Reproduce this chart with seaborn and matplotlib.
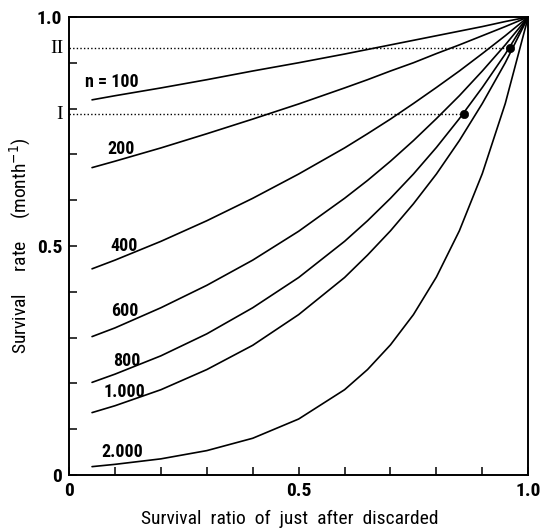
import matplotlib
matplotlib.use("Agg")
import numpy as np
import pandas as pd
import matplotlib.pyplot as plt
import seaborn as sns
from matplotlib import font_manager

# ── data ─────────────────────────────────────────────────────
x_ratio = [0.05, 0.1, 0.2, 0.3, 0.4, 0.5, 0.6, 0.65, 0.7, 0.75, 0.8, 0.85, 0.9, 0.95, 1.0]

rate_n100  = [0.819, 0.828, 0.845, 0.863, 0.882, 0.900, 0.919, 0.929, 0.939, 0.949, 0.959, 0.969, 0.979, 0.990, 1.0]
rate_n200  = [0.671, 0.685, 0.714, 0.745, 0.777, 0.810, 0.845, 0.863, 0.882, 0.900, 0.920, 0.939, 0.959, 0.979, 1.0]
rate_n400  = [0.450, 0.469, 0.510, 0.555, 0.604, 0.657, 0.714, 0.745, 0.777, 0.811, 0.846, 0.882, 0.920, 0.959, 1.0]
rate_n600  = [0.302, 0.321, 0.365, 0.414, 0.469, 0.532, 0.604, 0.643, 0.685, 0.730, 0.778, 0.828, 0.882, 0.939, 1.0]
rate_n800  = [0.202, 0.220, 0.260, 0.308, 0.365, 0.431, 0.510, 0.555, 0.604, 0.657, 0.715, 0.778, 0.846, 0.919, 1.0]
rate_n1000 = [0.136, 0.151, 0.186, 0.230, 0.283, 0.350, 0.431, 0.480, 0.533, 0.592, 0.657, 0.730, 0.811, 0.900, 1.0]
rate_n2000 = [0.018, 0.023, 0.035, 0.053, 0.080, 0.122, 0.186, 0.230, 0.284, 0.350, 0.432, 0.533, 0.658, 0.811, 1.0]

n_values = [100, 200, 400, 600, 800, 1000, 2000]
n_labels = ["n = 100", "200", "400", "600", "800", "1.000", "2.000"]
all_rates = [rate_n100, rate_n200, rate_n400, rate_n600, rate_n800, rate_n1000, rate_n2000]

# marked points (I, II) and their levels
dot_x = [0.861, 0.961]
dot_y = [0.788, 0.932]
level_labels = ["I", "II"]

df = pd.concat(
    [pd.DataFrame({"ratio": x_ratio, "rate": r, "n": n}) for n, r in zip(n_values, all_rates)],
    ignore_index=True,
)

# ── style ────────────────────────────────────────────────────
sns.set_style("ticks")

# narrow face if there is one, otherwise a condensed stretch of what exists
installed = {f.name for f in font_manager.fontManager.ttflist}
narrow = next((f for f in ["Liberation Sans Narrow", "Roboto Condensed", "Open Sans Condensed",
                           "Liberation Sans", "Roboto"] if f in installed), "DejaVu Sans")
plt.rcParams["font.family"] = [narrow, "DejaVu Sans"]
plt.rcParams["font.stretch"] = "condensed"
for key in ["text.color", "axes.labelcolor", "xtick.color", "ytick.color", "axes.edgecolor"]:
    plt.rcParams[key] = "black"

fig = plt.figure(figsize=(5.44, 5.30), dpi=100)
ax = fig.add_axes([0.127, 0.104, 0.844, 0.864])

sns.lineplot(data=df, x="ratio", y="rate", units="n", estimator=None,
             color="black", linewidth=1.2, ax=ax, legend=False)

# dotted guide lines from the axis to the marked points
ax.hlines(dot_y, 0, dot_x, colors="black", linewidth=1.0, linestyles=(0, (1, 1.6)))
sns.scatterplot(x=dot_x, y=dot_y, color="black", s=36, edgecolor="black", ax=ax, zorder=5)

# curve labels
label_pos = [(0.094, 0.858), (0.113, 0.712), (0.12, 0.50), (0.122, 0.358),
             (0.125, 0.249), (0.12, 0.181), (0.115, 0.050)]
for txt, (lx, ly) in zip(n_labels, label_pos):
    ax.text(lx, ly, txt, fontsize=13, fontweight="bold", ha="center", va="center")

ax.set_xlim(0, 1.0)
ax.set_ylim(0, 1.0)

ax.set_xticks([0, 0.5, 1.0])
ax.set_xticklabels(["0", "0.5", "1.0"])
ax.set_yticks([0, 0.5, 1.0])
ax.set_yticklabels(["0", "0.5", "1.0"])
ax.set_xticks(np.arange(1, 10) / 10, minor=True)
ax.set_yticks(np.arange(1, 10) / 10, minor=True)
ax.tick_params(which="both", direction="in", length=6, width=1.1, top=False, right=False)
ax.tick_params(which="major", labelsize=14, pad=5)
for t in ax.get_xticklabels() + ax.get_yticklabels():
    t.set_fontweight("bold")

# roman level marks on the y axis
for lab, ly in zip(level_labels, dot_y):
    ax.text(-0.013, ly, lab, ha="right", va="center",
            fontsize=14, family="Liberation Serif", clip_on=False)

for s in ax.spines.values():
    s.set_linewidth(1.4)

ax.set_xlabel("Survival  ratio  of  just  after  discarded", fontsize=14)
ax.set_ylabel("Survival     rate     (month$^{-1}$)", fontsize=14)
ax.xaxis.set_label_coords(0.481, -0.077)
ax.yaxis.set_label_coords(-0.078, 0.5)

fig.savefig("out.png", dpi=100)
